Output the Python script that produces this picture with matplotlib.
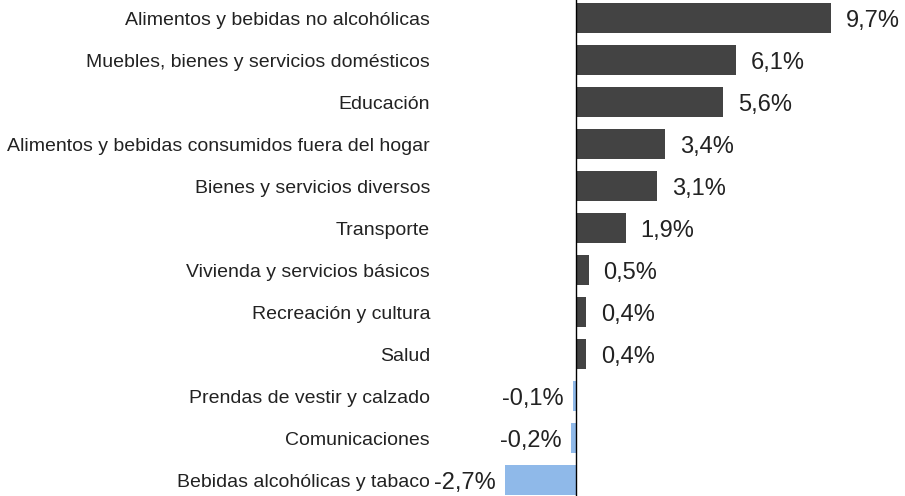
import matplotlib.pyplot as plt

plt.rcParams['font.family'] = ['Liberation Sans', 'DejaVu Sans']

categorias = [
    "Alimentos y bebidas no alcohólicas",
    "Muebles, bienes y servicios domésticos",
    "Educación",
    "Alimentos y bebidas consumidos fuera del hogar",
    "Bienes y servicios diversos",
    "Transporte",
    "Vivienda y servicios básicos",
    "Recreación y cultura",
    "Salud",
    "Prendas de vestir y calzado",
    "Comunicaciones",
    "Bebidas alcohólicas y tabaco",
]
valores = [9.7, 6.1, 5.6, 3.4, 3.1, 1.9, 0.5, 0.4, 0.4, -0.1, -0.2, -2.7]
etiquetas = ["9,7%", "6,1%", "5,6%", "3,4%", "3,1%", "1,9%", "0,5%", "0,4%",
             "0,4%", "-0,1%", "-0,2%", "-2,7%"]

gris = "#434343"
azul = "#8fb9e9"

fig = plt.figure(figsize=(9.05, 4.96), dpi=100)
ax = fig.add_axes([0.486, 0.0, 0.514, 1.0])

pos = list(range(len(categorias)))
colores = [gris if v >= 0 else azul for v in valores]
ax.barh(pos, valores, height=0.72, color=colores)

for p, v, e in zip(pos, valores, etiquetas):
    if v >= 0:
        ax.text(v + 0.55, p, e, va="center_baseline", ha="left", fontsize=17, color="#222222")
    else:
        ax.text(v - 0.35, p, e, va="center_baseline", ha="right", fontsize=17, color="#222222")

ax.axvline(0, color="black", lw=1)
ax.set_xlim(-5.17, 12.51)
ax.set_ylim(11.38, -0.43)
ax.set_yticks(pos)
ax.set_yticklabels(categorias, fontsize=14, color="#222222")
ax.tick_params(axis="y", length=0, pad=7)
ax.set_xticks([])
for s in ax.spines.values():
    s.set_visible(False)

fig.savefig("out.png", dpi=100)
